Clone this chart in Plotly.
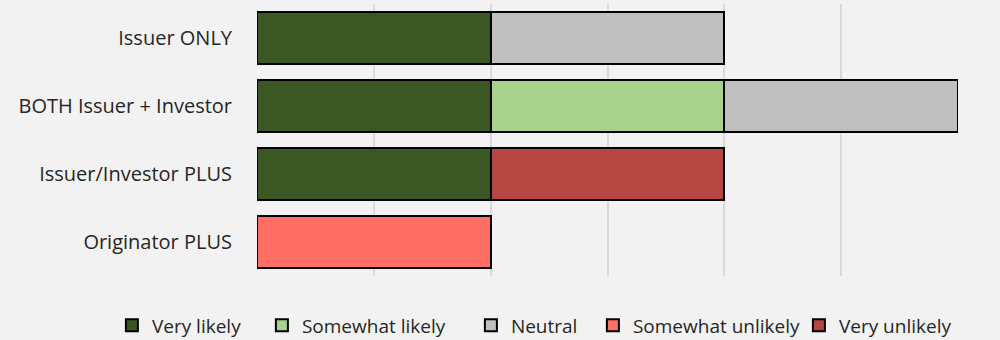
import plotly.graph_objects as go

categories = ["Issuer ONLY", "BOTH Issuer + Investor", "Issuer/Investor PLUS", "Originator PLUS"]
series_names = ["Very likely", "Somewhat likely", "Neutral", "Somewhat unlikely", "Very unlikely"]
very_likely = [1, 1, 1, 0]
somewhat_likely = [0, 1, 0, 0]
neutral = [1, 1, 0, 0]
somewhat_unlikely = [0, 0, 0, 1]
very_unlikely = [0, 0, 1, 0]
series_values = [very_likely, somewhat_likely, neutral, somewhat_unlikely, very_unlikely]
colors = ["#3A5724", "#A9D18E", "#BFBFBF", "#FF6F66", "#B64641"]
legend_widths = [105, 164, 77, 161, 140]

fig = go.Figure()
for name, vals, col, lw in zip(series_names, series_values, colors, legend_widths):
    fig.add_trace(go.Bar(
        y=categories, x=vals, name=name, orientation="h",
        marker=dict(color=col, line=dict(color="#000000", width=2)),
        width=0.77, legendwidth=lw,
    ))

font = "Open Sans, Noto Sans, sans-serif"
fig.update_layout(
    barmode="stack",
    width=1000, height=340,
    margin=dict(l=257, r=42, t=4, b=64, autoexpand=False),
    paper_bgcolor="#F2F2F2", plot_bgcolor="#F2F2F2",
    font=dict(family=font, size=20, color="#262626"),
    showlegend=True,
    legend=dict(orientation="h", x=-0.207, xanchor="left", y=-0.112, yanchor="top",
                font=dict(size=19, color="#262626"), traceorder="normal",
                bgcolor="rgba(0,0,0,0)"),
    xaxis=dict(range=[0, 3], dtick=0.5, showgrid=True, gridcolor="#D9D9D9", gridwidth=1.5,
               showticklabels=False, zeroline=False, showline=False, ticks=""),
    yaxis=dict(categoryorder="array", categoryarray=categories, autorange="reversed",
               showgrid=False, zeroline=False, showline=False, ticks="",
               ticklabelstandoff=24),
)
fig.write_html("out.html")
